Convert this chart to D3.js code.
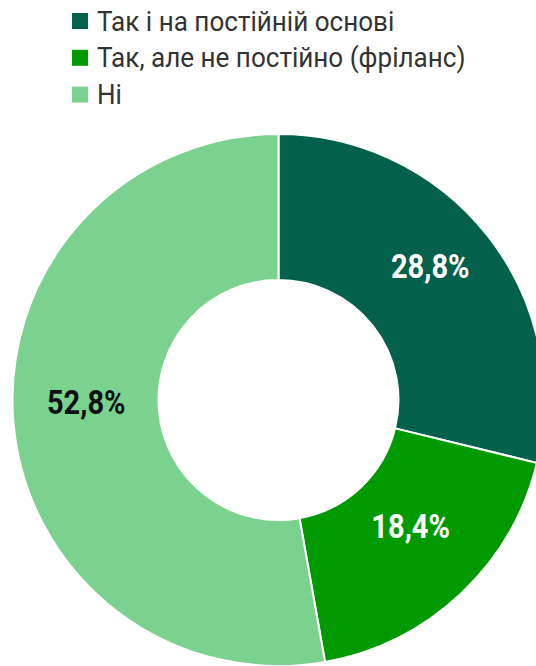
<!DOCTYPE html>
<html>
<head>
<meta charset="utf-8">
<script src="https://cdn.jsdelivr.net/npm/d3@7"></script>
<style>
  html, body { margin: 0; padding: 0; background: #fff; }
  svg { display: block; }
</style>
</head>
<body>
<svg id="chart" width="536" height="666"></svg>
<script>
const categories = ["Так і на постійній основі", "Так, але не постійно (фріланс)", "Ні"];
const values = [28.8, 18.4, 52.8];
const valueLabels = ["28,8%", "18,4%", "52,8%"];
const colors = ["#03604b", "#009a00", "#7ad28e"];
const labelColors = ["#ffffff", "#ffffff", "#111111"];

const svg = d3.select("#chart");
const cx = 278.5, cy = 400, outerR = 266, innerR = 120;

const pie = d3.pie().sort(null).value(d => d.value);
const arcs = pie(categories.map((c, i) => ({ name: c, value: values[i], idx: i })));
const arc = d3.arc().innerRadius(innerR).outerRadius(outerR);

const g = svg.append("g").attr("transform", `translate(${cx},${cy})`);
g.selectAll("path").data(arcs).join("path")
  .attr("d", arc)
  .attr("fill", d => colors[d.data.idx])
  .attr("stroke", "#fff")
  .attr("stroke-width", 2)
  .attr("stroke-linejoin", "round");

g.selectAll("text.val").data(arcs).join("text")
  .attr("class", "val")
  .attr("transform", d => {
    const [x, y] = arc.centroid(d);
    return `translate(${x},${y - 3}) scale(0.88,1)`;
  })
  .attr("text-anchor", "middle")
  .attr("font-family", "Roboto, sans-serif")
  .attr("font-weight", "bold")
  .attr("font-size", 33)
  .attr("fill", d => labelColors[d.data.idx])
  .text(d => valueLabels[d.data.idx]);

// Legend
const legend = svg.append("g").attr("transform", "translate(72,0)");
const rowH = 36.8;
const items = legend.selectAll("g").data(categories).join("g")
  .attr("transform", (d, i) => `translate(0,${13 + i * rowH})`);
items.append("rect")
  .attr("width", 16).attr("height", 16)
  .attr("fill", (d, i) => colors[i]);
items.append("text")
  .attr("transform", "translate(25,17.5) scale(0.966,1)")
  .attr("font-family", "Roboto, sans-serif")
  .attr("font-size", 27)
  .attr("fill", "#333")
  .text(d => d);
</script>
</body>
</html>
